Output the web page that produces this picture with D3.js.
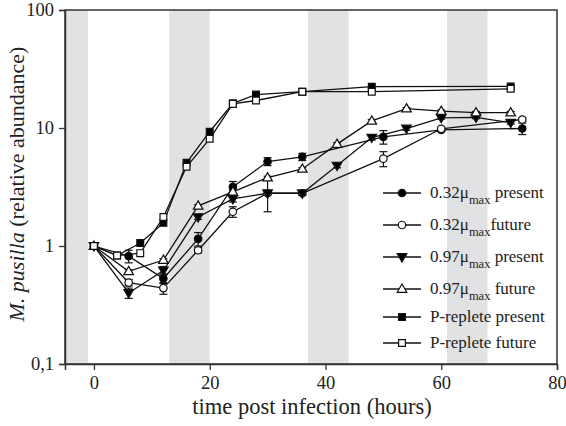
<!DOCTYPE html>
<html><head><meta charset="utf-8">
<script src="https://cdn.jsdelivr.net/npm/d3@7/dist/d3.min.js"></script>
<style>body{margin:0;background:#fff}svg{display:block}</style>
</head><body>
<svg id="c" width="566" height="426"></svg>
<script>
// ---- data ----
const tMu = [0, 6, 12, 18, 24, 30, 36, 42, 48, 54, 60, 66, 72];
const t032 = [0, 6, 12, 18, 24, 30, 36, 50, 60, 74];
const tP = [0, 4, 8, 12, 16, 20, 24, 28, 36, 48, 72];

const mu032Present = [1, 0.82, 0.53, 1.15, 3.17, 5.2, 5.7, 8.4, 9.65, 9.9];
const mu032PresentErr = [0, 0.1, 0.05, 0.15, 0.35, 0.4, 0.4, 1.1, 0.3, 1.1];
const mu032Future = [1, 0.49, 0.44, 0.92, 1.95, 2.8, 2.8, 5.5, 9.85, 11.8];
const mu032FutureErr = [0, 0.03, 0.05, 0.05, 0.2, 0.1, 0.1, 0.8, 0.3, 0.4];
const mu097Present = [1, 0.40, 0.62, 1.76, 2.51, 2.8, 2.8, 4.8, 8.3, 9.9, 12.2, 12.3, 11.1];
const mu097PresentErr = [0, 0.04, 0.05, 0.08, 0.15, 0.85, 0.1, 0.2, 0.4, 0.3, 0.3, 0.3, 0.3];
const mu097Future = [1, 0.61, 0.76, 2.19, 2.88, 3.8, 4.5, 7.3, 11.5, 14.6, 13.9, 13.5, 13.5];
const mu097FutureErr = [0, 0.02, 0.02, 0.05, 0.1, 0.1, 0.1, 0.2, 0.3, 0.3, 0.3, 0.3, 0.3];
const pPresent = [1, 0.83, 1.06, 1.57, 5.07, 9.3, 16.2, 19.2, 20.3, 22.4, 22.5];
const pFuture = [1, 0.83, 0.87, 1.76, 4.69, 8.1, 16.0, 17.1, 20.3, 20.3, 21.5];

const darkBands = [[-5, -1], [13, 20], [37, 44], [61, 68]];
const xTicks = [0, 20, 40, 60, 80];
const yTicks = [0.1, 1, 10, 100];

const series = [
  {name: "0.32", sub: "max", suf: " present", t: t032, v: mu032Present, e: mu032PresentErr, sym: "circle", fill: "#000"},
  {name: "0.32", sub: "max", suf: "future", t: t032, v: mu032Future, e: mu032FutureErr, sym: "circle", fill: "#fff"},
  {name: "0.97", sub: "max", suf: " present", t: tMu, v: mu097Present, e: mu097PresentErr, sym: "down", fill: "#000"},
  {name: "0.97", sub: "max", suf: " future", t: tMu, v: mu097Future, e: mu097FutureErr, sym: "up", fill: "#fff"},
  {name: "P-replete present", t: tP, v: pPresent, sym: "square", fill: "#000"},
  {name: "P-replete future", t: tP, v: pFuture, sym: "square", fill: "#fff"}
];

// ---- layout ----
const L = 65, R = 557, T = 10, B = 364;
const x = d3.scaleLinear().domain([-5, 80]).range([L, R]);
const y = d3.scaleLog().domain([0.1, 100]).range([B, T]);
const svg = d3.select("#c");
const serif = "'Liberation Serif', 'Times New Roman', serif";

// bands
svg.append("g").selectAll("rect").data(darkBands).join("rect")
  .attr("x", d => x(d[0])).attr("width", d => x(d[1]) - x(d[0]))
  .attr("y", T).attr("height", B - T).attr("fill", "#e1e2e4");

function symPath(sym) {
  if (sym === "circle") return d3.symbol(d3.symbolCircle, 44)();
  if (sym === "square") return d3.symbol(d3.symbolSquare, 46)();
  if (sym === "up") return "M0,-5L4.8,3.3L-4.8,3.3Z";
  if (sym === "down") return "M0,5L4.8,-3.3L-4.8,-3.3Z";
}

const plot = svg.append("g");
const line = d3.line().x(d => x(d[0])).y(d => y(d[1]));
series.forEach(s => {
  const pts = s.t.map((t, i) => [t, s.v[i], s.e ? s.e[i] : 0]);
  plot.append("path").datum(pts).attr("d", line)
    .attr("fill", "none").attr("stroke", "#111").attr("stroke-width", 1.3);
});
series.forEach(s => {
  const pts = s.t.map((t, i) => [t, s.v[i], s.e ? s.e[i] : 0]);
  const g = plot.append("g");
  pts.filter(d => d[2] > 0).forEach(d => {
    const y1 = y(d[1] + d[2]), y2 = y(Math.max(d[1] - d[2], 0.11)), cx = x(d[0]);
    g.append("line").attr("x1", cx).attr("x2", cx).attr("y1", y1).attr("y2", y2).attr("stroke", "#111").attr("stroke-width", 1.2);
    [y1, y2].forEach(yy => g.append("line").attr("x1", cx - 4).attr("x2", cx + 4).attr("y1", yy).attr("y2", yy).attr("stroke", "#111").attr("stroke-width", 1.2));
  });
  g.selectAll("path").data(pts).join("path")
    .attr("d", symPath(s.sym))
    .attr("transform", d => `translate(${x(d[0])},${y(d[1])})`)
    .attr("fill", s.fill).attr("stroke", "#111").attr("stroke-width", 1.2);
});

// frame
svg.append("rect").attr("x", L).attr("y", T).attr("width", R - L).attr("height", B - T)
  .attr("fill", "none").attr("stroke", "#333").attr("stroke-width", 1.5);

// axes
const ax = svg.append("g").attr("transform", `translate(0,${B})`)
  .call(d3.axisBottom(x).tickValues(xTicks).tickSize(6).tickPadding(6).tickFormat(d3.format("d")));
const ay = svg.append("g").attr("transform", `translate(${L},0)`)
  .call(d3.axisLeft(y).tickValues(yTicks).tickSize(6).tickPadding(5)
    .tickFormat(d => d === 0.1 ? "0,1" : d3.format("d")(d)));
[ax, ay].forEach(a => {
  a.select(".domain").attr("stroke", "#333").attr("stroke-width", 1.5);
  a.selectAll(".tick line").attr("stroke", "#333").attr("stroke-width", 1.3);
  a.selectAll("text").attr("font-family", serif).attr("font-size", 18.5).attr("fill", "#222");
});

// titles
svg.append("text").attr("x", 312).attr("y", 414).attr("text-anchor", "middle")
  .attr("font-family", serif).attr("font-size", 22.5).attr("fill", "#222")
  .text("time post infection (hours)");
const yt = svg.append("text").attr("transform", "translate(24,184) rotate(-90)")
  .attr("text-anchor", "middle").attr("font-family", serif).attr("font-size", 22).attr("fill", "#222");
yt.append("tspan").attr("font-style", "italic").text("M. pusilla");
yt.append("tspan").text(" (relative abundance)");

// legend
const rowsY = [193, 225, 257, 289, 317, 343];
const lg = svg.append("g");
series.forEach((s, i) => {
  const yy = rowsY[i];
  lg.append("line").attr("x1", 383).attr("x2", 421).attr("y1", yy).attr("y2", yy).attr("stroke", "#111").attr("stroke-width", 1.3);
  lg.append("path").attr("d", symPath(s.sym)).attr("transform", `translate(402,${yy})`)
    .attr("fill", s.fill).attr("stroke", "#111").attr("stroke-width", 1.2);
  const tx = lg.append("text").attr("x", 430).attr("y", yy + 5)
    .attr("font-family", serif).attr("font-size", 17).attr("fill", "#222");
  if (s.sub) {
    tx.append("tspan").text(s.name + "μ");
    tx.append("tspan").attr("font-size", 12.5).attr("dy", 6).text(s.sub);
    tx.append("tspan").attr("dy", -6).text(s.suf);
  } else tx.text(s.name);
});
</script>
</body></html>
